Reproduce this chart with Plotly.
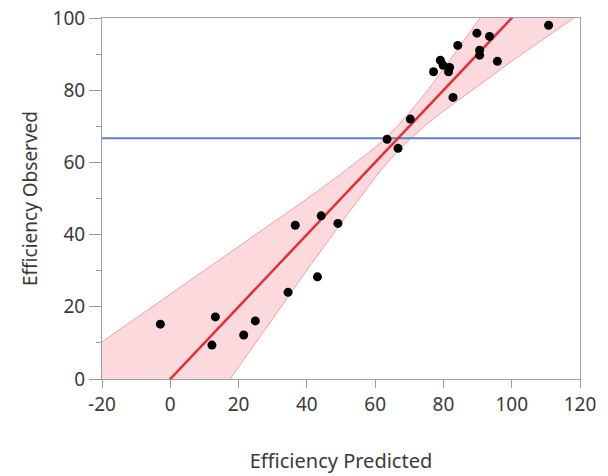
import plotly.graph_objects as go

# Data
predicted = [-2.9, 12.2, 13.2, 21.5, 24.9, 34.5, 36.6, 43.1, 44.2, 49.1,
             63.5, 66.7, 70.3,
             77.1, 79.1, 79.9, 81.8, 81.5, 84.2, 82.8, 89.8, 93.5, 90.6, 90.6, 95.8, 110.8]
observed = [15.2, 9.4, 17.2, 12.2, 16.1, 24.0, 42.6, 28.3, 45.2, 43.1,
            66.4, 63.9, 72.0,
            85.1, 88.3, 86.9, 86.3, 85.1, 92.4, 78.0, 95.8, 94.9, 91.1, 89.7, 88.0, 98.0]

fit_intercept = 0.0
fit_slope = 1.0
mean_observed = 66.7

band_x = [-20, -10, 0, 10, 20, 30, 40, 50, 55, 60, 63, 66.8, 70, 75, 80, 90, 100, 110, 120]
band_lower = [-50.3, -36.9, -23.4, -10.0, 3.4, 16.8, 30.1, 43.2, 49.6, 55.8, 59.3, 63.3,
              66.3, 70.5, 74.2, 81.2, 88.0, 94.6, 101.2]
band_upper = [10.3, 16.9, 23.4, 30.0, 36.6, 43.2, 49.9, 56.8, 60.4, 64.2, 66.7, 70.3,
              73.7, 79.5, 85.8, 98.8, 112.0, 125.4, 138.8]

x_tickvals = [-20, 0, 20, 40, 60, 80, 100, 120]
x_ticktext = ["-20", "0", "20", "40", "60", "80", "100", "120"]
y_tickvals = [0, 20, 40, 60, 80, 100]
y_minor = [10, 30, 50, 70, 90]

x_range = [-20, 120]
y_range = [0, 100]

fig = go.Figure()

band_edge = "rgba(235,130,140,0.7)"
fig.add_trace(go.Scatter(x=band_x, y=band_lower, mode="lines",
                         line=dict(color=band_edge, width=1), showlegend=False, hoverinfo="skip"))
fig.add_trace(go.Scatter(x=band_x, y=band_upper, mode="lines", fill="tonexty",
                         fillcolor="rgba(246,170,180,0.45)",
                         line=dict(color=band_edge, width=1), showlegend=False, hoverinfo="skip"))

fig.add_trace(go.Scatter(x=x_range, y=[mean_observed, mean_observed], mode="lines",
                         line=dict(color="#5b80c6", width=2), showlegend=False))

fit_y = [fit_intercept + fit_slope * v for v in x_range]
fig.add_trace(go.Scatter(x=x_range, y=fit_y, mode="lines",
                         line=dict(color="#e0303c", width=2.5), showlegend=False))

fig.add_trace(go.Scatter(x=predicted, y=observed, mode="markers",
                         marker=dict(color="black", size=9), showlegend=False, cliponaxis=False))

font = "Noto Sans, Open Sans, sans-serif"
fig.update_layout(
    width=608, height=476,
    margin=dict(l=102, r=28, t=18, b=97),
    paper_bgcolor="white", plot_bgcolor="white",
    font=dict(family=font, color="#333333"),
    showlegend=False,
)
fig.update_xaxes(
    range=x_range, tickmode="array", tickvals=x_tickvals, ticktext=x_ticktext,
    ticks="outside", ticklen=8, tickcolor="#999999",
    showline=True, linecolor="#a0a0a0", linewidth=1, mirror=True,
    showgrid=False, zeroline=False, automargin=False,
    tickfont=dict(size=19, color="#3a3a3a"),
    title=dict(text="Efficiency Predicted", font=dict(size=20, color="#3a3a3a"), standoff=38),
)
fig.update_yaxes(
    range=y_range, tickmode="array", tickvals=y_tickvals,
    ticks="outside", ticklen=12, tickcolor="#999999",
    minor=dict(tickvals=y_minor, ticks="outside", ticklen=5, tickcolor="#999999"),
    showline=True, linecolor="#a0a0a0", linewidth=1, mirror=True,
    showgrid=False, zeroline=False, automargin=False,
    tickfont=dict(size=19, color="#3a3a3a"),
    title=dict(text="Efficiency Observed", font=dict(size=19, color="#3a3a3a"), standoff=9),
)

fig.write_html("out.html")
